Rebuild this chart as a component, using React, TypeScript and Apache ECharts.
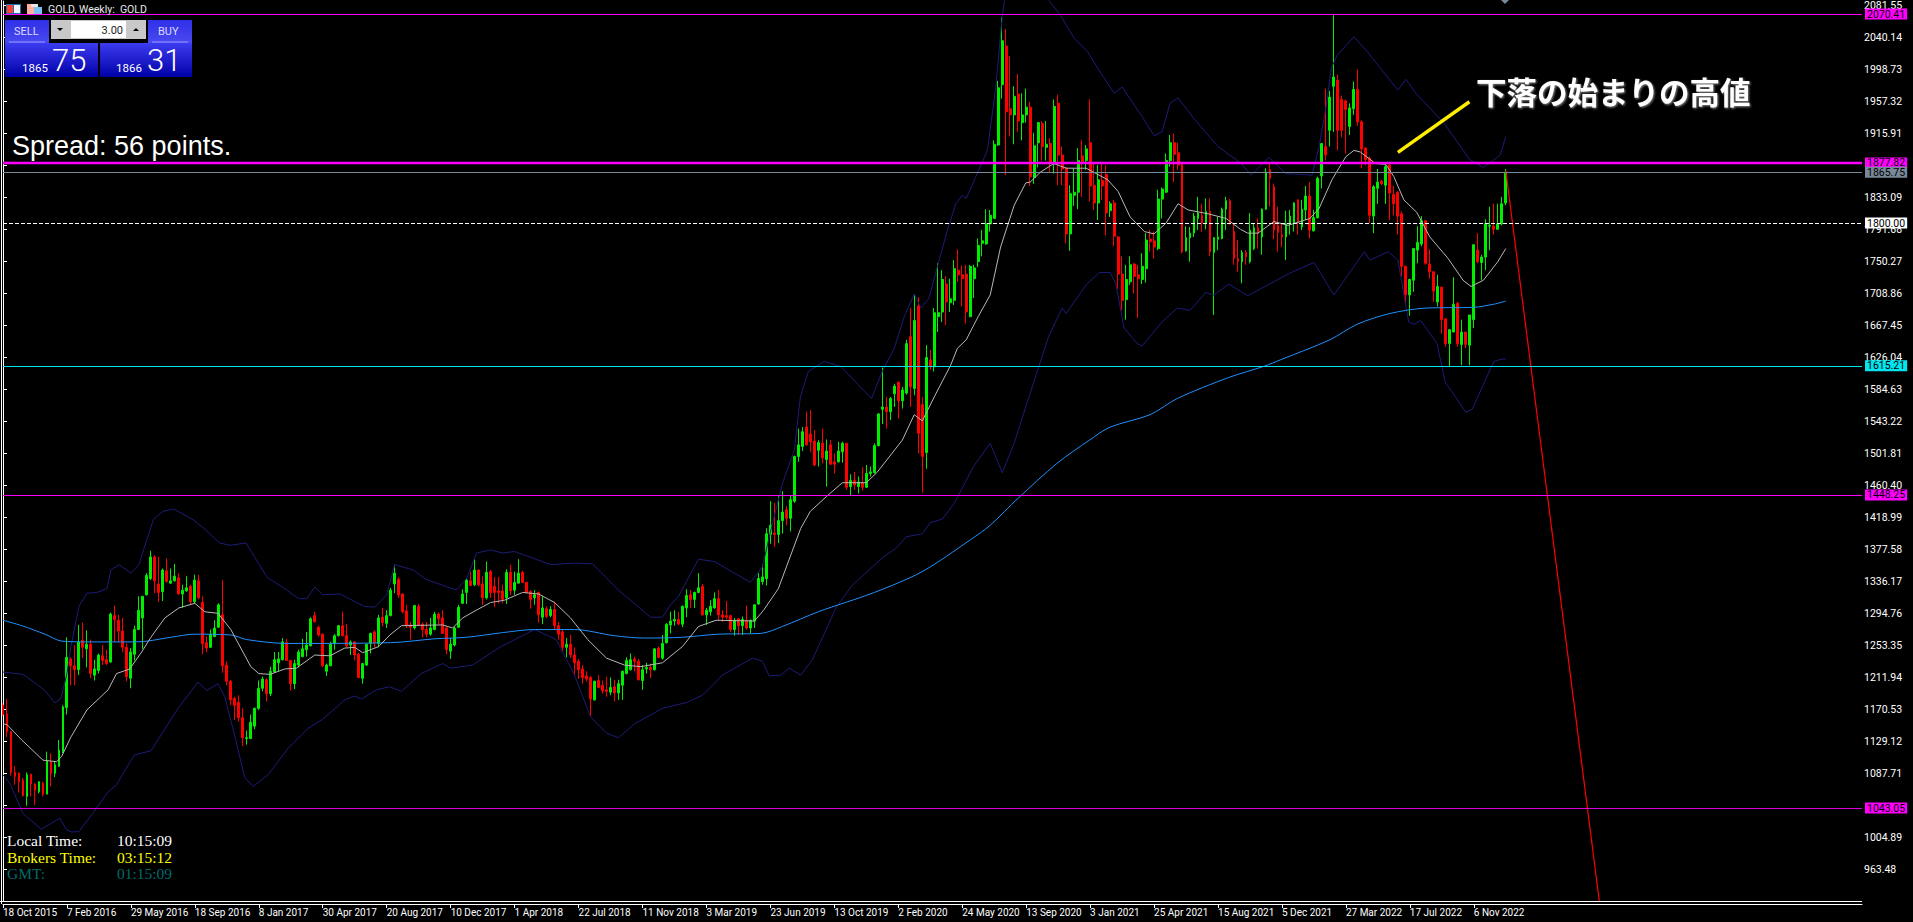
import React, { useEffect, useRef } from "react";
import * as echarts from "echarts";

const dateLabels = ["18 Oct 2015","7 Feb 2016","29 May 2016","18 Sep 2016","8 Jan 2017","30 Apr 2017","20 Aug 2017","10 Dec 2017","1 Apr 2018","22 Jul 2018","11 Nov 2018","3 Mar 2019","23 Jun 2019","13 Oct 2019","2 Feb 2020","24 May 2020","13 Sep 2020","3 Jan 2021","25 Apr 2021","15 Aug 2021","5 Dec 2021","27 Mar 2022","17 Jul 2022","6 Nov 2022"];
const priceTicks = [2081.55,2040.14,1998.73,1957.32,1915.91,1874.5,1833.09,1791.68,1750.27,1708.86,1667.45,1626.04,1584.63,1543.22,1501.81,1460.4,1418.99,1377.58,1336.17,1294.76,1253.35,1211.94,1170.53,1129.12,1087.71,1046.3,1004.89,963.48];
const priceLabels = [2081.55,2040.14,1998.73,1957.32,1915.91,1833.09,1791.68,1750.27,1708.86,1667.45,1626.04,1584.63,1543.22,1501.81,1460.4,1418.99,1377.58,1336.17,1294.76,1253.35,1211.94,1170.53,1129.12,1087.71,1004.89,963.48];

const opens = [
1176,1165,1142,1089,1088,1079,1058,1087,1074,1064,
1075,1061,1103,1088,1097,1116,1173,1236,1227,1222,
1260,1249,1255,1215,1221,1240,1235,1232,1292,1286,
1272,1251,1211,1242,1274,1289,1319,1340,1368,1333,
1323,1350,1334,1337,1341,1320,1324,1330,1310,1337,
1309,1257,1251,1265,1277,1293,1228,1207,1185,1180,
1160,1133,1133,1149,1172,1198,1209,1191,1219,1231,
1235,1257,1234,1204,1228,1239,1248,1253,1292,1277,
1268,1220,1227,1256,1266,1279,1266,1254,1258,1242,
1211,1228,1256,1271,1256,1290,1282,1292,1333,1339,
1320,1298,1280,1276,1304,1281,1274,1268,1274,1294,
1289,1276,1246,1254,1277,1308,1322,1337,1332,1351,
1333,1315,1349,1330,1324,1324,1315,1348,1325,1334,
1348,1335,1323,1315,1322,1290,1301,1292,1300,1279,
1271,1251,1255,1241,1233,1223,1214,1212,1183,1208,
1202,1196,1193,1200,1192,1202,1217,1222,1236,1233,
1208,1223,1225,1222,1250,1237,1257,1280,1285,1287,
1281,1302,1319,1313,1322,1330,1293,1297,1302,1314,
1293,1292,1292,1274,1288,1279,1286,1276,1285,1307,
1336,1340,1397,1399,1397,1415,1429,1418,1440,1498,
1511,1536,1527,1518,1506,1515,1494,1513,1491,1491,
1504,1515,1459,1467,1459,1464,1458,1476,1477,1512,
1559,1562,1556,1579,1594,1570,1580,1653,1586,1693,
1565,1503,1623,1614,1679,1685,1721,1697,1700,1739,
1733,1734,1679,1728,1750,1774,1773,1799,1806,1901,
1979,2029,1948,1940,1967,1930,1940,1950,1859,1904,
1929,1898,1903,1877,1955,1888,1871,1786,1836,1840,
1887,1881,1904,1849,1826,1855,1863,1816,1826,1782,
1734,1701,1724,1747,1733,1727,1741,1779,1777,1767,
1831,1840,1881,1904,1891,1876,1764,1781,1787,1806,
1810,1800,1815,1762,1779,1780,1818,1829,1789,1754,
1750,1762,1750,1767,1794,1782,1818,1869,1847,1797,
1785,1782,1799,1800,1830,1795,1817,1835,1790,1807,
1861,1899,1920,1977,1985,1960,1958,1925,1948,1973,
1931,1897,1884,1809,1845,1854,1849,1875,1837,1840,
1812,1744,1707,1726,1765,1773,1803,1747,1737,1698,
1717,1676,1644,1659,1696,1643,1659,1642,1675,1765,
1749,1756,1796,1796,1792,1799,1826
];
const closes = [
1164,1142,1089,1084,1077,1059,1086,1074,1066,1077,
1061,1104,1088,1099,1118,1174,1238,1227,1222,1258,
1251,1255,1217,1223,1241,1234,1230,1294,1287,1272,
1251,1213,1245,1274,1299,1317,1344,1368,1337,1322,
1351,1336,1337,1343,1320,1325,1328,1310,1338,1315,
1256,1250,1268,1276,1306,1227,1207,1183,1176,1160,
1134,1134,1154,1172,1198,1210,1191,1220,1235,1236,
1258,1234,1204,1230,1245,1249,1254,1288,1284,1267,
1227,1228,1255,1266,1279,1266,1253,1258,1241,1212,
1230,1255,1269,1257,1289,1283,1292,1325,1347,1319,
1297,1279,1277,1305,1280,1274,1268,1276,1294,1288,
1269,1248,1255,1276,1303,1320,1338,1331,1351,1332,
1315,1348,1322,1322,1322,1313,1348,1324,1335,1347,
1335,1322,1313,1319,1293,1302,1291,1300,1279,1268,
1251,1255,1241,1231,1222,1212,1210,1184,1207,1199,
1195,1194,1199,1192,1204,1220,1234,1235,1233,1209,
1222,1225,1222,1249,1238,1256,1281,1285,1287,1281,
1304,1318,1313,1322,1328,1293,1299,1304,1314,1293,
1290,1290,1274,1286,1279,1287,1276,1286,1306,1340,
1342,1398,1409,1397,1415,1426,1418,1442,1498,1513,
1530,1513,1517,1487,1516,1496,1505,1488,1488,1505,
1515,1458,1467,1461,1465,1458,1476,1478,1512,1553,
1562,1556,1573,1589,1570,1584,1644,1588,1674,1528,
1498,1626,1614,1684,1684,1727,1698,1702,1741,1733,
1728,1685,1744,1742,1771,1777,1799,1810,1902,1975,
2036,1944,1940,1964,1932,1940,1950,1860,1900,1930,
1899,1902,1879,1951,1888,1870,1786,1838,1840,1881,
1877,1896,1848,1826,1856,1848,1813,1825,1783,1734,
1700,1727,1746,1731,1728,1744,1778,1776,1769,1831,
1844,1881,1904,1889,1875,1763,1781,1787,1809,1813,
1800,1815,1763,1781,1782,1818,1829,1799,1754,1750,
1762,1756,1791,1794,1787,1818,1866,1858,1791,1788,
1782,1799,1809,1826,1801,1818,1835,1791,1807,1858,
1903,1888,1963,1989,1920,1920,1947,1949,1973,1931,
1896,1882,1810,1847,1853,1851,1873,1839,1825,1809,
1744,1707,1727,1767,1775,1803,1748,1737,1712,1718,
1675,1644,1662,1695,1644,1659,1643,1681,1772,1750,
1756,1799,1797,1792,1799,1825,1865.75
];
const lows = [
1162,1135,1085,1073,1063,1058,1046,1058,1047,1062,
1058,1061,1071,1083,1097,1114,1164,1202,1202,1215,
1237,1225,1211,1208,1217,1228,1228,1231,1258,1258,
1245,1207,1198,1234,1274,1249,1318,1338,1321,1310,
1311,1335,1333,1336,1319,1302,1323,1306,1308,1313,
1242,1245,1250,1264,1276,1218,1202,1176,1157,1155,
1123,1125,1132,1145,1170,1194,1181,1188,1218,1220,
1234,1234,1195,1197,1225,1238,1239,1252,1283,1265,
1225,1214,1227,1248,1265,1265,1251,1241,1234,1211,
1204,1227,1243,1251,1251,1278,1276,1291,1321,1315,
1295,1276,1261,1274,1279,1264,1264,1266,1273,1281,
1269,1242,1236,1252,1276,1307,1307,1330,1330,1330,
1306,1313,1315,1303,1308,1308,1307,1319,1319,1334,
1334,1321,1301,1306,1283,1281,1289,1290,1273,1261,
1246,1238,1237,1214,1210,1204,1207,1161,1182,1198,
1191,1187,1189,1181,1183,1183,1216,1221,1220,1208,
1196,1217,1211,1221,1237,1235,1256,1269,1279,1280,
1277,1290,1302,1302,1321,1292,1280,1292,1301,1286,
1284,1287,1271,1266,1267,1267,1274,1269,1276,1306,
1332,1331,1385,1381,1386,1398,1409,1401,1438,1491,
1505,1512,1504,1485,1485,1489,1459,1487,1476,1490,
1490,1455,1447,1455,1450,1454,1457,1472,1476,1511,
1540,1534,1545,1562,1547,1560,1578,1562,1577,1502,
1451,1482,1610,1608,1659,1672,1668,1685,1694,1724,
1692,1670,1678,1703,1743,1757,1772,1789,1806,1900,
1961,1862,1912,1902,1918,1907,1930,1848,1851,1872,
1881,1881,1866,1864,1849,1849,1774,1764,1822,1818,
1834,1869,1828,1817,1804,1830,1784,1808,1770,1715,
1687,1675,1720,1709,1677,1721,1723,1763,1754,1765,
1806,1839,1873,1853,1869,1761,1763,1750,1782,1791,
1789,1792,1757,1681,1765,1779,1791,1798,1746,1737,
1722,1746,1748,1765,1767,1759,1817,1821,1779,1763,
1769,1752,1785,1789,1785,1791,1804,1780,1789,1806,
1845,1881,1899,1918,1894,1911,1890,1914,1940,1926,
1871,1875,1800,1787,1825,1849,1825,1804,1810,1785,
1731,1696,1680,1711,1748,1770,1746,1728,1698,1692,
1657,1640,1614,1659,1640,1616,1638,1616,1664,1748,
1726,1739,1765,1785,1791,1797,1823
];
const highs = [
1179,1184,1142,1097,1089,1082,1089,1087,1075,1078,
1077,1116,1114,1103,1131,1176,1264,1238,1254,1280,
1283,1273,1261,1235,1243,1254,1248,1296,1305,1293,
1289,1256,1250,1279,1317,1317,1347,1376,1370,1368,
1353,1366,1353,1359,1347,1332,1343,1332,1345,1345,
1317,1265,1274,1286,1308,1338,1233,1209,1187,1189,
1172,1143,1164,1173,1208,1213,1211,1226,1245,1245,
1263,1262,1235,1235,1248,1262,1271,1290,1297,1279,
1269,1230,1258,1268,1280,1297,1281,1260,1259,1244,
1230,1256,1270,1273,1293,1302,1299,1328,1358,1342,
1321,1306,1284,1306,1307,1283,1284,1289,1297,1296,
1299,1278,1263,1278,1306,1326,1340,1349,1365,1352,
1343,1362,1351,1342,1342,1332,1352,1358,1349,1365,
1350,1336,1325,1325,1323,1317,1304,1304,1310,1284,
1274,1263,1267,1251,1236,1228,1220,1214,1208,1215,
1208,1213,1212,1209,1209,1221,1238,1243,1239,1236,
1228,1231,1230,1250,1252,1267,1282,1297,1299,1297,
1305,1326,1325,1323,1347,1333,1302,1312,1322,1325,
1299,1311,1293,1289,1289,1291,1305,1287,1307,1347,
1358,1405,1440,1438,1448,1453,1434,1448,1499,1534,
1536,1556,1558,1532,1519,1534,1520,1519,1502,1517,
1517,1515,1475,1478,1472,1484,1487,1485,1515,1554,
1613,1575,1575,1592,1595,1588,1649,1690,1708,1704,
1575,1642,1636,1690,1748,1739,1731,1728,1752,1766,
1745,1746,1746,1746,1780,1791,1818,1817,1907,1984,
2066,2051,2016,1977,1993,1968,1974,1957,1917,1931,
1932,1932,1910,1960,1966,1899,1873,1849,1871,1897,
1907,1901,1960,1877,1875,1877,1875,1828,1830,1783,
1757,1746,1757,1748,1746,1761,1787,1791,1789,1843,
1846,1890,1914,1916,1904,1877,1796,1795,1813,1834,
1825,1832,1832,1782,1808,1820,1834,1831,1799,1778,
1765,1765,1813,1800,1806,1819,1871,1877,1851,1821,
1800,1816,1817,1827,1831,1830,1848,1853,1817,1860,
1903,1974,1971,2069,1992,1965,1960,1955,1983,1999,
1933,1898,1886,1849,1870,1856,1875,1877,1848,1841,
1815,1745,1728,1767,1796,1809,1804,1766,1737,1733,
1718,1677,1662,1730,1698,1675,1659,1681,1772,1787,
1759,1805,1821,1825,1825,1834,1870
];

const upperX = [0,5,8,10.5,13,14.5,16,17,19,21,23.5,26,27,29,32,34,36.3,37.6,40,42.7,47.6,50.7,54.2,56.8,60.8,66,71,74,76,78,80,84.3,90.4,93,96,98,102.7,105.8,113.4,116,118.5,122,125,128,137,143,147.5,154,162,165,167,169,174,178,187,190,192,195,198,199.5,201.5,205.5,209.7,217.3,220,223,225.5,228,229.7,231.7,233.8,236.3,238.4,240,241,243.4,246.3,248.4,250,250.6,253,258,261.7,264.6,268,271.3,274.7,278,280,285,288,290,292,294,298,304,309.6,312.3,316.7,321,327.5,329.3,331.3,332.3,333.8,338,341,349,351,353.5,360.6,367,370.4,374.6,376];
const upperY = [1219,1216,1205,1195,1179,1185,1217,1252,1304,1321,1322,1327,1351,1358,1347,1358,1395,1416,1427,1430,1416,1403,1386,1383,1386,1342,1325,1314,1314,1329,1319,1320,1304,1303,1319,1358,1351,1339,1325,1340,1373,1377,1373,1375,1358,1360,1359,1325,1290,1290,1306,1317,1365,1362,1335,1355,1400,1463,1506,1575,1608,1621,1614,1573,1608,1638,1679,1708,1690,1703,1744,1791,1825,1836,1832,1860,1894,1976,2067,2088,2130,2130,2088,2069,2039,2022,1994,1968,1976,1938,1913,1918,1955,1962,1935,1899,1878,1862,1885,1864,1862,1899,1959,2000,2017,2041,2024,1972,1986,1968,1929,1882,1872,1888,1912];
const lowerX = [0,1.7,5,9.6,14.2,15.9,17.1,19,23.4,26.3,28.4,31.8,33,37,43.8,48.8,51,53.8,55.5,58,60.5,62.6,66.3,71.3,76.3,80,85.5,88,89.7,93.4,96.7,99.7,104.6,110,112,117.5,124.6,133,136,138.4,143,147,151,154,158,165,171.3,175,180,187.5,190,191.7,194.6,196.7,199.6,202.5,208.6,212.6,220.3,223.4,226,230,232,235,238,242.8,247,250,253,256,261.6,265,266,271,274.3,277,278.4,280.5,283.8,285,290,293.8,297,300.9,303,306.7,311.4,321.9,328,333,340.6,342,346.6,349,351.7,353,354.7,358.8,360.9,362.5,366,367.6,373,375,376];
const lowerY = [1086,1075,1036,1015.5,1030,1015,1012,1012.5,1043,1064,1073,1103,1112,1117,1172,1206,1195,1204,1187,1136,1082,1071,1086,1120,1146,1158,1183,1188,1184,1196,1200,1194,1217,1230,1224,1228,1252,1274,1267,1261,1215,1161,1140,1134,1152,1172,1180,1189,1215,1237,1233,1214,1215,1224,1215,1235,1304,1332,1368,1379,1394,1398,1412,1417,1437,1485,1515,1477,1515,1564,1653,1690,1683,1720,1736,1736,1722,1664,1644,1641,1672,1690,1687,1710,1707,1721,1706,1735,1749,1707,1763,1752,1763,1752,1672,1669,1674,1644,1593,1582,1555,1559,1621,1624,1624];
const maFastX = [0,1,4.7,10,13.4,14.7,17,21,26.3,28.4,31.7,34.7,37,40.5,44,48,50.5,53.8,57,62,64,66.8,70.5,73.4,78,81.8,85.5,88,90,94,96.8,99.7,110,112.5,115,118.4,122,125.5,130,134,138,142,146.3,151,155.5,159.6,165,170,174,178.4,188,190.3,194,196,199.6,202,206,210,216,218.8,225,228,230,233,237.1,238.8,241,244,247,249.6,253,255.9,257,259.6,262.9,266,271,276.4,279,282,285.6,288,291,294,296.5,301.5,306,309.6,311.4,314,318,321.5,327,329.3,332.5,336,338,339.6,343.4,346,348,350.5,353.7,357,361.6,365.3,367.3,370.4,374,376];
const maFastY = [1152,1151,1131,1105,1103,1110,1135,1170,1196,1217,1223,1245,1264,1289,1302,1308,1297,1295,1274,1226,1217,1216,1223,1224,1241,1240,1250,1251,1244,1252,1267,1279,1280,1276,1289,1299,1309,1312,1322,1320,1309,1289,1261,1237,1228,1226,1231,1252,1278,1286,1285,1299,1327,1355,1405,1427,1446,1464,1464,1478,1519,1552,1544,1575,1616,1638,1649,1679,1707,1769,1823,1852,1853,1866,1877,1871,1871,1856,1841,1808,1789,1786,1800,1825,1817,1812,1806,1792,1787,1787,1802,1797,1806,1819,1856,1886,1894,1892,1877,1876,1860,1830,1814,1782,1754,1726,1718,1726,1750,1767];
const maSlowX = [0,4.7,10.5,14.7,21,32,36,42,48,57,61,71,97,108,116,125,133,143,153,160.5,170,179,189.6,195,204,218,230,242,247,254,263.7,271.8,277,287,293.8,306.6,315.7,319.6,332,338.8,347,356,368,373,376];
const maSlowY = [1286,1279,1268,1259,1258,1258,1259,1264,1268,1267,1261,1256,1257,1262,1264,1270,1274,1274,1266,1263,1264,1268,1269,1278,1297,1322,1349,1390,1409,1444,1489,1519,1536,1552,1573,1600,1615,1623,1649,1669,1683,1690,1691,1695,1699];
const trendX = [376, 399.4];
const trendY = [1868, 922.7];
const arrowX = [349, 366.9];
const arrowY = [1891.6, 1957];

const levelPrices = [2070.41, 1877.82, 1865.75, 1800, 1615.21, 1448.25, 1043.05];
const levelColors = ["#ff00ff", "#ff00ff", "#778899", "#ffffff", "#00e5ee", "#ff00ff", "#d800d8"];
const levelWidths = [1, 2.4, 1, 1, 1, 1, 1];
const levelDashes = ["solid", "solid", "solid", "dashed", "solid", "solid", "solid"];

const pairs = (xs: number[], ys: number[]) => xs.map((x, i) => [x, ys[i]]);

const App = () => {
  const ref = useRef<HTMLDivElement>(null);
  useEffect(() => {
    document.body.style.margin = "0";
    document.body.style.background = "#000";
    const chart = echarts.init(ref.current!, null, { renderer: "svg" });
    const ui = "Roboto, 'Noto Sans', sans-serif";
    const panel = () => new echarts.graphic.LinearGradient(0, 0, 0, 1, [
      { offset: 0, color: "#3c3cf0" }, { offset: 1, color: "#0000a8" },
    ]);
    const btn = () => new echarts.graphic.LinearGradient(0, 0, 0, 1, [
      { offset: 0, color: "#2f2fe8" }, { offset: 1, color: "#4a4af0" },
    ]);
    const txt = (x: number, y: number, text: string, fill: string, font: string, size: number, extra: any = {}) => ({
      type: "text", x, y, z: 50, silent: true,
      style: { text, fill, fontFamily: font, fontSize: size, textVerticalAlign: "middle", verticalAlign: "middle", ...extra },
    });
    const rect = (x: number, y: number, width: number, height: number, fill: any) => ({
      type: "rect", z: 49, silent: true, shape: { x, y, width, height }, style: { fill },
    });
    const serif = "Georgia, 'Liberation Serif', 'DejaVu Serif', serif";
    const candleRows = opens.map((o, i) => [i, o, closes[i], lows[i], highs[i]]);
    const indicator = (name: string, data: number[][], color: string, width = 1, smooth: number | boolean = false) => ({
      type: "line", name, data, showSymbol: false, symbol: "none", silent: true, smooth,
      lineStyle: { color, width }, z: 5, clip: true,
    });
    chart.setOption({
      animation: false,
      backgroundColor: "#000000",
      grid: { left: 1.5, top: 1, width: 1860.5, height: 900 },
      xAxis: {
        type: "value", min: 0, max: 465.125, offset: 3,
        axisLine: { show: true, lineStyle: { color: "#fff", width: 1 } },
        axisTick: { show: true, length: 4, lineStyle: { color: "#fff" }, customValues: dateLabels.map((_, i) => i * 16) },
        axisLabel: {
          color: "#fff", fontFamily: ui, fontSize: 10, align: "left", margin: 3,
          customValues: dateLabels.map((_, i) => i * 16),
          formatter: (v: number) => dateLabels[Math.round(v / 16)] ?? "",
        },
        splitLine: { show: false },
      },
      yAxis: {
        type: "value", position: "right", min: 922.72, max: 2087.37, scale: true,
        axisLine: { show: true, lineStyle: { color: "#fff", width: 1 } },
        axisTick: { show: true, length: 4, lineStyle: { color: "#fff" }, customValues: priceTicks },
        axisLabel: {
          color: "#fff", fontFamily: ui, fontSize: 10.5, margin: 2,
          customValues: priceLabels, formatter: (v: number) => v.toFixed(2),
        },
        splitLine: { show: false },
      },
      series: [
        {
          type: "candlestick", name: "GOLD", data: candleRows, encode: { x: 0, y: [1, 2, 3, 4] },
          barWidth: 2.4, silent: true, z: 3,
          itemStyle: { color: "#00ee00", color0: "#ff0000", borderColor: "#00ee00", borderColor0: "#ff0000", borderWidth: 1 },
        },
        indicator("BB upper", pairs(upperX, upperY), "#1c1c78"),
        indicator("BB lower", pairs(lowerX, lowerY), "#1c1c78"),
        indicator("MA slow", pairs(maSlowX, maSlowY), "#1e90ff", 1, 0.3),
        indicator("MA fast", pairs(maFastX, maFastY), "#b8b8b8"),
        indicator("Trend", pairs(trendX, trendY), "#ff0000", 1.2),
        indicator("Arrow", pairs(arrowX, arrowY), "#ffee00", 3.4),
        {
          type: "line", name: "Levels", data: [], silent: true, z: 6,
          markLine: {
            silent: true, symbol: "none", animation: false, z: 20,
            data: levelPrices.map((p, i) => ({
              yAxis: p,
              lineStyle: { color: levelColors[i], width: levelWidths[i], type: levelDashes[i] },
              label: {
                show: true, position: "end", distance: 3, formatter: p.toFixed(2), color: "#000",
                backgroundColor: levelColors[i] === "#d800d8" ? "#ff00ff" : levelColors[i],
                fontFamily: ui, fontSize: 10.5, padding: [0, 2, 0, 2], lineHeight: 11,
              },
            })),
          },
        },
      ],
      graphic: [
        // frame
        { type: "line", z: 40, silent: true, shape: { x1: 1.5, y1: 0, x2: 1.5, y2: 904 }, style: { stroke: "#fff", lineWidth: 1 } },
        { type: "line", z: 40, silent: true, shape: { x1: 0, y1: 901.5, x2: 1862, y2: 901.5 }, style: { stroke: "#fff", lineWidth: 1 } },
        { type: "polygon", z: 40, silent: true, shape: { points: [[1501, 0], [1509, 0], [1505, 4]] }, style: { fill: "#778899" } },
        // header icons
        rect(6, 4, 15, 10, "#1f6fb5"), rect(7, 5, 6, 8, "#ff4030"), rect(14, 5, 6, 8, "#f0f4ff"),
        rect(27, 4, 7, 10, "#ffb0a0"), rect(34, 7, 8, 7, "#7ac0f0"), rect(31, 4, 7, 3, "#e8e8e8"),
        txt(48, 9.5, "GOLD, Weekly:  GOLD", "#e8e8e8", ui, 10.5),
        // trade panel
        rect(5, 20, 44, 23, btn()), rect(148, 20, 44, 23, btn()),
        rect(9, 41.5, 36, 1, "#9a9aff"), rect(152, 41.5, 36, 1, "#9a9aff"),
        txt(14, 31, "SELL", "#dcdcff", ui, 11),
        txt(158, 31, "BUY", "#dcdcff", ui, 11),
        rect(51, 20, 95, 19, "#c8c8c8"), rect(71, 21, 55, 17, "#ffffff"),
        { type: "polygon", z: 50, silent: true, shape: { points: [[57, 28], [63, 28], [60, 31]] }, style: { fill: "#000" } },
        { type: "polygon", z: 50, silent: true, shape: { points: [[133, 31], [139, 31], [136, 28]] }, style: { fill: "#000" } },
        txt(123, 30, "3.00", "#222", ui, 11, { textAlign: "right", align: "right" }),
        rect(5, 43, 93, 34, panel()), rect(100, 43, 92, 34, panel()),
        txt(22, 67.5, "1865", "#fff", ui, 11.5),
        txt(52, 60, "75", "#fff", ui, 31, { fontWeight: 300 }),
        txt(116, 67.5, "1866", "#fff", ui, 11.5),
        txt(147, 60, "31", "#fff", ui, 31, { fontWeight: 300 }),
        // notes
        txt(12, 146, "Spread: 56 points.", "#ffffff", "'Liberation Sans', Arial, sans-serif", 27),
        txt(1476, 91, "下落の始まりの高値", "#ffffff", "'Noto Sans CJK JP', sans-serif", 30.5, {
          fontWeight: "bold", textShadowColor: "#888", textShadowBlur: 2, textShadowOffsetX: 1, textShadowOffsetY: 1,
        }),
        // clock
        txt(7, 840, "Local Time:", "#ffffff", serif, 15.5), txt(117, 840, "10:15:09", "#ffffff", serif, 15.5),
        txt(7, 857, "Brokers Time:", "#ffff00", serif, 15.5), txt(117, 857, "03:15:12", "#ffff00", serif, 15.5),
        txt(7, 873.5, "GMT:", "#006b6b", serif, 15.5), txt(117, 873.5, "01:15:09", "#006b6b", serif, 15.5),
      ],
    });
    return () => chart.dispose();
  }, []);
  return <div ref={ref} style={{ position: "fixed", left: 0, top: 0, width: 1913, height: 922, background: "#000" }} />;
};

export default App;
